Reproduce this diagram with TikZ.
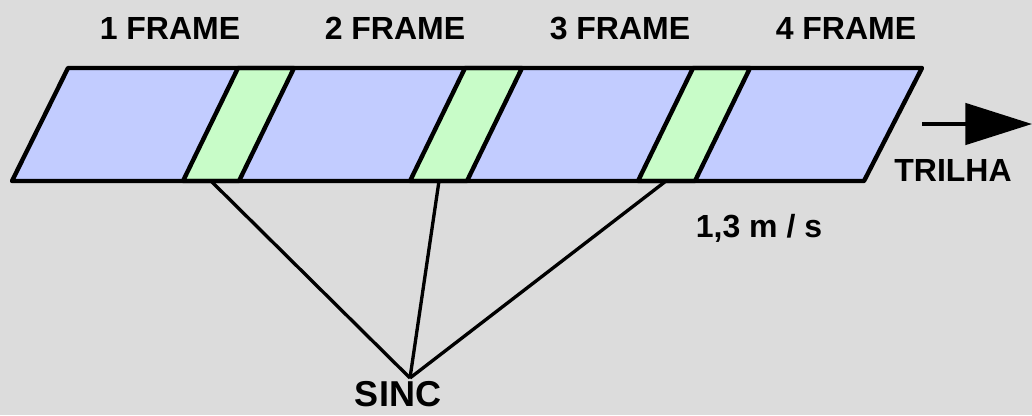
\documentclass[tikz,border=0pt]{standalone}
\usepackage{fontspec}
\setmainfont{Liberation Sans}
\usetikzlibrary{arrows.meta}

\definecolor{bgGray}{RGB}{220,220,220}
\definecolor{frameBlue}{RGB}{194,204,255}
\definecolor{syncGreen}{RGB}{200,252,200}

\tikzset{
    label/.style={font=\bfseries\fontsize{24}{28}\selectfont, anchor=base, inner sep=0pt},
    edge/.style={line width=3.3pt, line join=round},
    wire/.style={line width=2.5pt},
}

\begin{document}
\begin{tikzpicture}[x=0.75pt, y=-0.75pt]
    % Background
    \fill[bgGray] (0,0) rectangle (1032,415);
    \useasboundingbox (0,0) rectangle (1032,415);

    % Tape with the frames
    \fill[frameBlue] (12,181) -- (68,68) -- (922,68) -- (864,181) -- cycle;
    \foreach \a/\b in {183/239, 410/467, 638/695} {
        \filldraw[syncGreen, draw=black, edge] (\a,181) -- (\a+55,68) -- (\b+55,68) -- (\b,181) -- cycle;
    }
    \draw[edge] (12,181) -- (68,68) -- (922,68) -- (864,181) -- cycle;

    % Frame labels
    \foreach \x [count=\i] in {170,395,620,846} {
        \node[label] (frame\i) at (\x,39) {\i\ FRAME};
    }

    % Direction of the track
    \coordinate (trackStart) at (922,124);
    \coordinate (trackEnd) at (1032,124);
    \draw[edge, line width=2.8pt, -{Triangle[length=50pt, width=31pt]}] (trackStart) -- (trackEnd);
    \node[label] (track) at (953,181) {TRILHA};
    \node[label] (speed) at (759,237) {1,3 m / s};

    % Sync marks
    \coordinate (sync1) at (211,181);
    \coordinate (sync2) at (439,181);
    \coordinate (sync3) at (666,181);
    \coordinate (meet) at (410,378);
    \node[label, font=\bfseries\fontsize{27}{32}\selectfont] (sinc) at (398,406) {SINC};
    \foreach \i in {1,2,3} {
        \draw[wire] (sync\i) -- (meet);
    }
\end{tikzpicture}
\end{document}
